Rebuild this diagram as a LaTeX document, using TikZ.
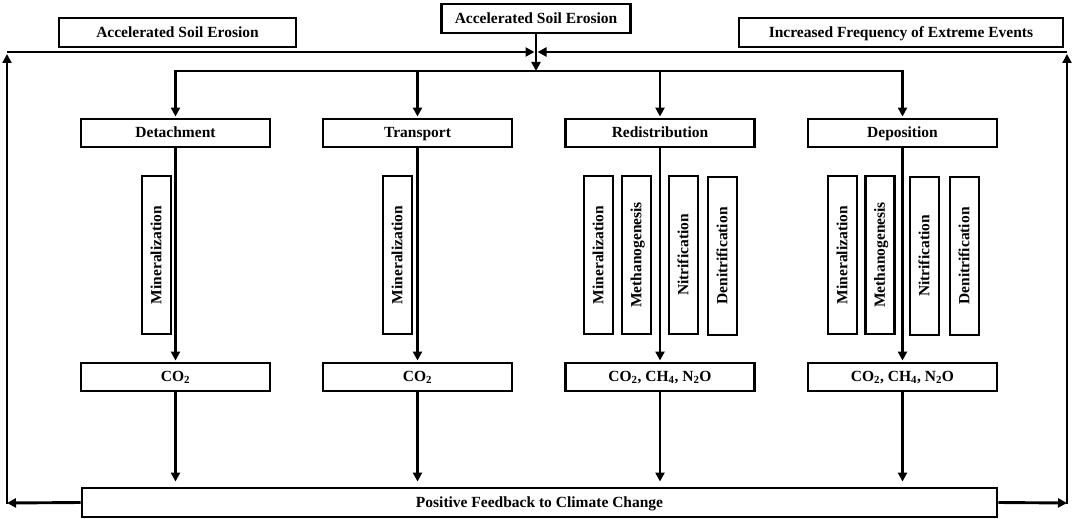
\documentclass[tikz,border=0pt]{standalone}
\usepackage{fontspec}
\setmainfont{Liberation Serif}
\usetikzlibrary{arrows.meta}
\begin{document}
\begin{tikzpicture}[x=1pt,y=-1pt,
  lw/.style={line width=2.9pt},
  box/.style={draw,lw,inner sep=0pt,minimum height=28,text height=11.5pt,text depth=2pt,font=\fontsize{15.5}{17}\selectfont\bfseries},
  lvl/.style={box,minimum width=189},
  proc/.style={box,rotate=90,minimum width=158,minimum height=29},
  arr/.style={lw,-{Triangle[length=9pt,width=9pt]}},
  ln/.style={lw}]
\useasboundingbox (0,0) rectangle (1073,519);
% top boxes
\node[box,minimum width=189,minimum height=29] (ase) at (536,18.5) {Accelerated Soil Erosion};
\node[box,minimum width=237,minimum height=29] (asel) at (177.5,32.5) {Accelerated Soil Erosion};
\node[box,minimum width=324,minimum height=29] (ifee) at (901,32.5) {Increased Frequency of Extreme Events};
% level boxes
\node[lvl] (det) at (175.5,133) {Detachment};
\node[lvl] (tra) at (417.5,133) {Transport};
\node[lvl] (red) at (660,133) {Redistribution};
\node[lvl] (dep) at (902.5,133) {Deposition};
% gas boxes
\node[lvl] (g1) at (175.5,377) {CO\textsubscript{2}};
\node[lvl] (g2) at (417.5,377) {CO\textsubscript{2}};
\node[lvl] (g3) at (660,377) {CO\textsubscript{2}, CH\textsubscript{4}, N\textsubscript{2}O};
\node[lvl] (g4) at (902.5,377) {CO\textsubscript{2}, CH\textsubscript{4}, N\textsubscript{2}O};
% process boxes
\node[proc] (p1) at (156.5,255) {Mineralization};
\node[proc] (p2) at (397.5,255) {Mineralization};
\node[proc] (p3) at (598.5,255) {Mineralization};
\node[proc] (p4) at (636.5,255) {Methanogenesis};
\node[proc] (p5) at (683.5,255) {Nitrification};
\node[proc] (p6) at (722.5,256) {Denitrification};
\node[proc] (p7) at (842.5,255) {Mineralization};
\node[proc] (p8) at (880,255) {Methanogenesis};
\node[proc] (p9) at (924.5,256) {Nitrification};
\node[proc] (p10) at (964.5,256) {Denitrification};
% bottom box
\node[box,minimum width=915,minimum height=29] (fb) at (539.5,502.5) {Positive Feedback to Climate Change};
% coordinates
\coordinate (hl) at (0,71);
\coordinate (jl) at (7,52);
\coordinate (jr) at (1067,52);
\coordinate (jc) at (536,52);
\coordinate (bl) at (7,503);
\coordinate (br) at (1067,503);
\coordinate (bl2) at (7,504.4);
\coordinate (br2) at (1067,504.4);
\coordinate (tl) at (7,54);
\coordinate (tr) at (1067,54);
% top distribution
\draw[arr] (ase.south) -- (ase.south |- hl);
\draw[ln] ([xshift=-1.45pt]det.north |- hl) -- ([xshift=1.45pt]dep.north |- hl);
\draw[arr,shorten >=1.5pt] (jl) -- (jc);
\draw[arr,shorten >=1.5pt] (jr) -- (jc);
\foreach \n/\g in {det/g1,tra/g2,red/g3,dep/g4}{
  \draw[arr,shorten >=1pt] (\n.north |- hl) -- (\n.north);
  \draw[arr,shorten >=1pt] (\n.south) -- (\g.north);
  \draw[arr,shorten >=5pt] (\g.south) -- (\g.south |- fb.north);
}
% feedback loops
\draw[arr] (fb.west) -- (bl);
\draw[arr] (fb.east) -- (br);
\draw[arr] (bl2) -- (tl);
\draw[arr] (br2) -- (tr);
\end{tikzpicture}
\end{document}
